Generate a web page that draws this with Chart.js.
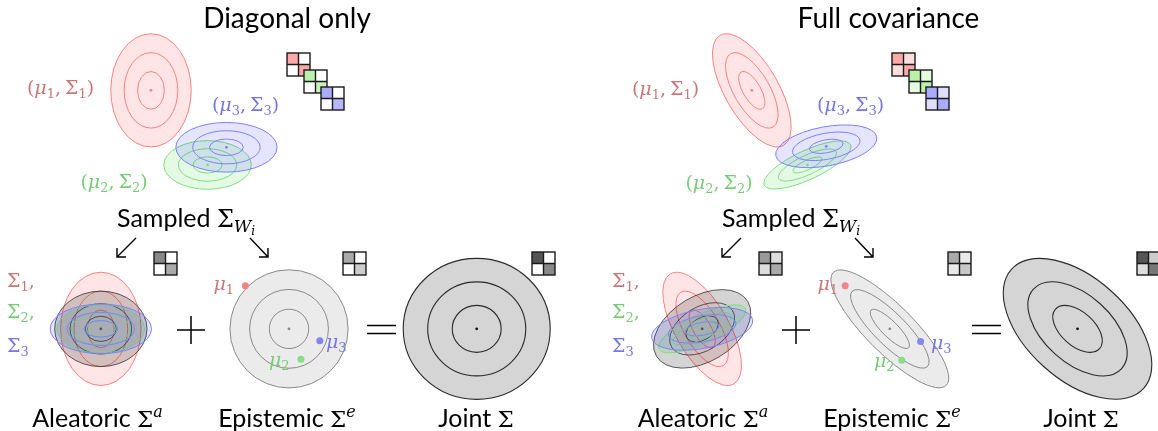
<!DOCTYPE html>
<html><head><meta charset="utf-8">
<script src="https://cdn.jsdelivr.net/npm/chart.js@4.4.1/dist/chart.umd.min.js"></script>
<style>html,body{margin:0;padding:0;background:#fff;overflow:hidden}canvas{display:block}</style>
</head><body>
<canvas id="c" width="1158" height="431"></canvas>
<script>
// ================= DATA =================
const panelTitles = ["Diagonal only", "Full covariance"];
const componentIds = ["1", "2", "3"];
// Gaussian components (top row): means and outer-contour ellipse (semi-axes a,b, rotation deg)
const compMeanX = [[148, 205, 224], [753, 809, 828]];
const compMeanY = [[88, 164, 146], [88, 164, 145]];
const compAxisA = [[40.5, 44, 51], [64, 48, 51.7]];
const compAxisB = [[57, 24.5, 25], [27, 14.6, 19.7]];
const compAngle = [[0, 0, 0], [60, -25, -10.5]];
const contourLevels = [1, 0.667, 0.333];
// Aleatoric (mean of sampled covariances)
const aleaX = [97.5, 703], aleaY = [331, 331];
const aleaA = [46.5, 53.6], aleaB = [38, 33], aleaAngle = [0, -31];
// Epistemic (covariance of means)
const epiX = [287, 892], epiY = [331, 331];
const epiA = [59.5, 80.4], epiB = [59.5, 24], epiAngle = [0, 45];
const muX = [[243, 299, 318], [847, 904, 923]];
const muY = [[287, 362, 343], [287, 363, 344]];
// Joint
const jointX = [476, 1081], jointY = [331, 331];
const jointA = [74, 89.6], jointB = [71, 51], jointAngle = [0, 42];
// 2x2 matrix cell intensities [TL, TR, BL, BR]
const compMatrix = [
  [[1, 0, 0, 1], [1, 0, 0, 0.85], [1, 0, 0, 0.85]],
  [[1, 0.4, 0.4, 1], [1, 0.4, 0.4, 1], [1, 0.4, 0.4, 1]]
];
const aleaMatrixGrey = [[136, 255, 255, 170], [153, 221, 221, 170]];
const epiMatrixGrey = [[170, 255, 255, 204], [170, 232, 232, 200]];
const jointMatrixGrey = [[85, 255, 255, 136], [85, 204, 221, 119]];

// ================= LAYOUT / STYLE =================
const SANS = 'Lato, "Open Sans", sans-serif';
const SERIF = '"DejaVu Serif", "Liberation Serif", serif';
const panelOffset = [0, 605];
const titleCX = [287, 888.5];
const compRGB = [[255, 0, 0], [0, 210, 0], [0, 0, 255]];
const compStroke = ["#ff7f7f", "#7fdf7f", "#7f7fff"];
const labelColor = ["#cc7777", "#77cc77", "#7777dd"];
const muDotColor = ["#f08585", "#85e085", "#8585f0"];

const centerDotData = [];
const centerDotColors = [];
const muDotData = [], muDotColors = [];
for (let p = 0; p < 2; p++) {
  for (let i = 0; i < 3; i++) {
    centerDotData.push({x: compMeanX[p][i], y: compMeanY[p][i]});
    centerDotColors.push(compStroke[i]);
    muDotData.push({x: muX[p][i], y: muY[p][i]});
    muDotColors.push(muDotColor[i]);
  }
  centerDotData.push({x: aleaX[p], y: aleaY[p]}); centerDotColors.push("#555");
  centerDotData.push({x: epiX[p], y: epiY[p]}); centerDotColors.push("#888");
  centerDotData.push({x: jointX[p], y: jointY[p]}); centerDotColors.push("#111");
}

function runs(ctx, parts, x, y, align, color) {
  let w = 0;
  parts.forEach(p => { ctx.font = p.f; p.w = ctx.measureText(p.t).width; w += p.w + (p.g || 0); });
  let cx = align === "center" ? x - w / 2 : (align === "right" ? x - w : x);
  parts.forEach(p => {
    ctx.font = p.f; ctx.fillStyle = p.c || color;
    ctx.fillText(p.t, cx, y + (p.dy || 0)); cx += p.w + (p.g || 0);
  });
}

const diagramPlugin = {
  id: "diagram",
  beforeDatasetsDraw(chart) {
    const ctx = chart.ctx, xs = chart.scales.x, ys = chart.scales.y;
    const X = v => xs.getPixelForValue(v), Y = v => ys.getPixelForValue(v);
    const sx = Math.abs(X(1) - X(0));
    function ell(cx, cy, a, b, ang, fill, stroke, lw) {
      ctx.beginPath();
      ctx.ellipse(X(cx), Y(cy), a * sx, b * sx, ang * Math.PI / 180, 0, 2 * Math.PI);
      if (fill) { ctx.fillStyle = fill; ctx.fill(); }
      if (stroke) { ctx.strokeStyle = stroke; ctx.lineWidth = lw || 1; ctx.stroke(); }
    }
    function comp(p, i, cx, cy) {
      const c = compRGB[i];
      contourLevels.forEach((l, k) => {
        ell(cx, cy, compAxisA[p][i] * l, compAxisB[p][i] * l, compAngle[p][i],
          k === 0 ? `rgba(${c[0]},${c[1]},${c[2]},0.1)` : null, compStroke[i], 1);
      });
    }
    ctx.save();
    for (let p = 0; p < 2; p++) {
      [0, 1, 2].forEach(i => comp(p, i, compMeanX[p][i], compMeanY[p][i]));
      comp(p, 0, aleaX[p], aleaY[p]);
      contourLevels.forEach((l, k) => ell(aleaX[p], aleaY[p], aleaA[p] * l, aleaB[p] * l, aleaAngle[p],
        k === 0 ? "rgba(0,0,0,0.17)" : null, "rgba(40,40,40,0.75)", 1));
      comp(p, 1, aleaX[p], aleaY[p]);
      comp(p, 2, aleaX[p], aleaY[p]);
      contourLevels.forEach((l, k) => ell(epiX[p], epiY[p], epiA[p] * l, epiB[p] * l, epiAngle[p],
        k === 0 ? "#ebebeb" : null, "#8a8a8a", 1));
      contourLevels.forEach((l, k) => ell(jointX[p], jointY[p], jointA[p] * l, jointB[p] * l, jointAngle[p],
        k === 0 ? "#d5d5d5" : null, "#2a2a2a", 1.1));
    }
    ctx.restore();
  },
  afterDatasetsDraw(chart) {
    const ctx = chart.ctx;
    ctx.save();
    ctx.textBaseline = "alphabetic";
    function mat(x, y, cols) {
      const s = 23, h = s / 2;
      [[0, 0], [h, 0], [0, h], [h, h]].forEach((o, k) => {
        ctx.fillStyle = cols[k]; ctx.fillRect(x + o[0], y + o[1], h, h);
      });
      ctx.strokeStyle = "#1a1a1a"; ctx.lineWidth = 1.4;
      ctx.strokeRect(x, y, s, s);
      ctx.beginPath(); ctx.moveTo(x + h, y); ctx.lineTo(x + h, y + s);
      ctx.moveTo(x, y + h); ctx.lineTo(x + s, y + h); ctx.stroke();
    }
    const grey = g => `rgb(${g},${g},${g})`;
    function tint(i, v) {
      const c = compRGB[i], f = v / 3;
      return `rgb(${Math.round(255 + (c[0] - 255) * f * (i === 1 ? 0.8 : 1))},${Math.round(255 + (c[1] - 255) * f)},${Math.round(255 + (c[2] - 255) * f)})`;
    }
    function arrow(x1, y1, x2, y2) {
      ctx.strokeStyle = "#000"; ctx.lineWidth = 1.4;
      ctx.beginPath(); ctx.moveTo(x1, y1); ctx.lineTo(x2, y2);
      const dx = Math.sign(x1 - x2), dy = Math.sign(y1 - y2);
      ctx.moveTo(x2 + dx * 9, y2); ctx.lineTo(x2, y2); ctx.lineTo(x2, y2 + dy * 9);
      ctx.stroke();
    }
    const up = s => `${s}px ${SERIF}`;
    const it = s => `italic ${s}px ${SERIF}`;
    for (let p = 0; p < 2; p++) {
      const o = panelOffset[p];
      runs(ctx, [{t: panelTitles[p], f: `28px ${SANS}`}], titleCX[p], 28, "center", "#000");
      const lblX = [[60.5, 114, 245.5], [665.5, 719, 850.5]];
      const lblY = [[94, 188, 111], [95, 189, 111]];
      for (let i = 0; i < 3; i++) {
        runs(ctx, [
          {t: "(", f: up(19)}, {t: "μ", f: it(19)}, {t: componentIds[i], f: up(13), dy: 4},
          {t: ",", f: up(19), g: 4}, {t: "Σ", f: up(19)}, {t: componentIds[i], f: up(13), dy: 4},
          {t: ")", f: up(19)}
        ], lblX[p][i], lblY[p][i], "center", labelColor[i]);
      }
      for (let i = 0; i < 3; i++) {
        mat(287 + o + 17 * i, 53 + 17 * i, compMatrix[p][i].map(v => tint(i, v)));
      }
      runs(ctx, [{t: "Sampled ", f: `25px ${SANS}`}, {t: "Σ", f: up(24)},
        {t: "W", f: it(17), dy: 5}, {t: "i", f: it(12), dy: 8}], 117 + o, 227, "left", "#000");
      arrow(136 + o, 238, 117 + o, 257);
      arrow(250 + o, 238, 268 + o, 257);
      mat(154 + o, 252, aleaMatrixGrey[p].map(grey));
      mat(343 + o, 252, epiMatrixGrey[p].map(grey));
      mat(532 + o, 252, jointMatrixGrey[p].map(grey));
      const sy = [287, 318, 352];
      for (let i = 0; i < 3; i++) {
        const parts = [{t: "Σ", f: up(19)}, {t: componentIds[i], f: up(13), dy: 4}];
        if (i < 2) parts.push({t: ",", f: up(19)});
        runs(ctx, parts, 7 + o, sy[i], "left", labelColor[i]);
      }
      const mlx = [[234, 269, 326], [838, 874, 931]];
      const mly = [[290, 366, 348], [290, 367, 349]];
      const mal = ["right", "left", "left"];
      for (let i = 0; i < 3; i++) {
        runs(ctx, [{t: "μ", f: it(19)}, {t: componentIds[i], f: up(13), dy: 4}],
          mlx[p][i], mly[p][i], mal[i], labelColor[i]);
      }
      ctx.strokeStyle = "#000"; ctx.lineWidth = 1.5;
      ctx.beginPath();
      ctx.moveTo(177 + o, 330); ctx.lineTo(205 + o, 330);
      ctx.moveTo(191 + o, 316); ctx.lineTo(191 + o, 344);
      ctx.moveTo(367 + o, 325.5); ctx.lineTo(396 + o, 325.5);
      ctx.moveTo(367 + o, 333.5); ctx.lineTo(396 + o, 333.5);
      ctx.stroke();
      runs(ctx, [{t: "Aleatoric ", f: `25px ${SANS}`}, {t: "Σ", f: up(23)}, {t: "a", f: it(16), dy: -10}],
        aleaX[p], 427, "center", "#000");
      runs(ctx, [{t: "Epistemic ", f: `25px ${SANS}`}, {t: "Σ", f: up(23)}, {t: "e", f: it(16), dy: -10}],
        epiX[p], 427, "center", "#000");
      runs(ctx, [{t: "Joint ", f: `25px ${SANS}`}, {t: "Σ", f: up(23)}],
        jointX[p], 427, "center", "#000");
    }
    ctx.restore();
  }
};

new Chart(document.getElementById("c"), {
  type: "scatter",
  data: {
    datasets: [
      {data: muDotData, pointRadius: 3.5, pointBackgroundColor: muDotColors, pointBorderWidth: 0},
      {data: centerDotData, pointRadius: 1.4, pointBackgroundColor: centerDotColors, pointBorderWidth: 0}
    ]
  },
  options: {
    responsive: false, devicePixelRatio: 1, animation: false,
    layout: {padding: 0},
    scales: {
      x: {type: "linear", min: 0, max: 1158, display: false},
      y: {type: "linear", min: 0, max: 431, reverse: true, display: false}
    },
    plugins: {legend: {display: false}, tooltip: {enabled: false}}
  },
  plugins: [diagramPlugin]
});
</script>
</body></html>
